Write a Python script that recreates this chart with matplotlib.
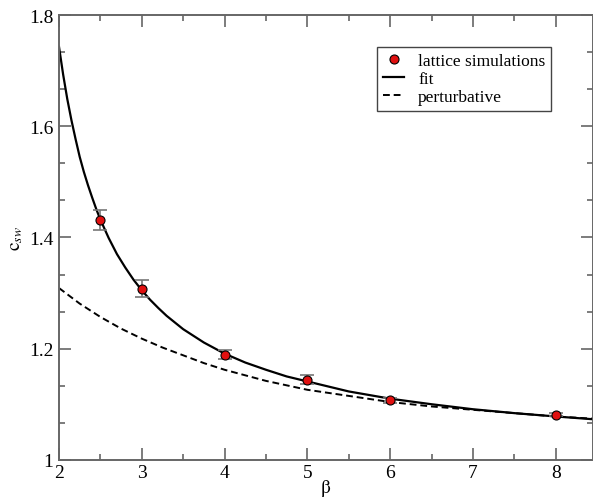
import numpy as np
import matplotlib
matplotlib.use('Agg')
import matplotlib.pyplot as plt
from matplotlib.ticker import AutoMinorLocator, FuncFormatter, MultipleLocator

plt.rcParams['font.family'] = ['Liberation Serif', 'DejaVu Serif']
plt.rcParams['mathtext.fontset'] = 'stix'

# lattice simulation points
beta_sim = [2.5, 3.0, 4.0, 5.0, 6.0, 8.0]
csw_sim = [1.431, 1.308, 1.189, 1.144, 1.107, 1.081]
csw_err = [0.018, 0.015, 0.008, 0.008, 0.004, 0.003]

# fit curve
beta_fit = [2.0, 2.05, 2.1, 2.15, 2.2, 2.25, 2.3, 2.35, 2.4, 2.45, 2.5, 2.6, 2.7,
            2.8, 2.9, 3.0, 3.1, 3.2, 3.3, 3.4, 3.5, 3.625, 3.75, 3.875, 4.0,
            4.25, 4.5, 4.75, 5.0, 5.5, 6.0, 6.5, 7.0, 7.5, 8.0, 8.45]
csw_fit = [1.743, 1.693, 1.649, 1.611, 1.577, 1.545, 1.518, 1.494, 1.472, 1.451,
           1.432, 1.399, 1.370, 1.346, 1.324, 1.305, 1.288, 1.273, 1.259, 1.247,
           1.235, 1.223, 1.211, 1.201, 1.191, 1.175, 1.162, 1.150, 1.141, 1.123,
           1.110, 1.100, 1.091, 1.084, 1.078, 1.073]

# perturbative curve
beta_pt = [2.0, 2.25, 2.5, 2.75, 3.0, 3.25, 3.5, 3.75, 4.0, 4.5, 5.0, 5.5, 6.0,
           6.5, 7.0, 7.5, 8.0, 8.45]
csw_pt = [1.309, 1.281, 1.257, 1.236, 1.218, 1.202, 1.188, 1.174, 1.162, 1.142,
          1.126, 1.115, 1.104, 1.096, 1.090, 1.084, 1.078, 1.074]

fig = plt.figure(figsize=(5.93, 5.02), dpi=100)
ax = fig.add_axes([0.0995, 0.082, 0.9005, 0.886])

ax.plot(beta_fit, csw_fit, color='black', lw=1.6, label='fit')
ax.plot(beta_pt, csw_pt, color='black', lw=1.4, ls=(0, (3.5, 2)), label='perturbative')
ax.errorbar(beta_sim, csw_sim, yerr=csw_err, fmt='none', ecolor='#777777',
            elinewidth=1.2, capsize=5, capthick=1.2, zorder=3)
ax.plot(beta_sim, csw_sim, 'o', ms=6.5, mfc='#e01010', mec='black', mew=0.8,
        label='lattice simulations', zorder=4)

ax.set_xlim(2, 8.45)
ax.set_ylim(1, 1.8)
ax.xaxis.set_major_locator(MultipleLocator(1))
ax.xaxis.set_minor_locator(AutoMinorLocator(2))
ax.yaxis.set_major_locator(MultipleLocator(0.2))
ax.yaxis.set_minor_locator(AutoMinorLocator(3))
ax.yaxis.set_major_formatter(FuncFormatter(lambda v, p: '%g' % round(v, 2)))

for s in ax.spines.values():
    s.set_color('#666666')
    s.set_linewidth(1.4)
ax.tick_params(which='both', direction='in', top=True, right=True,
               color='#666666', width=1.2, labelsize=14)
ax.tick_params(which='major', length=8.5)
ax.tick_params(which='minor', length=4.3)
ax.tick_params(axis='x', pad=3)
ax.tick_params(axis='y', pad=4)

ax.set_xlabel(r'$\mathrm{\beta}$', fontsize=14)
ax.xaxis.set_label_coords(0.5, -0.038)
ax.set_ylabel(r'$\mathrm{c}_{sw}$', fontsize=14, labelpad=3)

handles, labels = ax.get_legend_handles_labels()
order = [2, 0, 1]
leg = ax.legend([handles[i] for i in order], [labels[i] for i in order],
                loc='upper left', bbox_to_anchor=(0.596, 0.928), fontsize=12.5,
                fancybox=False, framealpha=1, edgecolor='#444444',
                borderaxespad=0, handlelength=1.2, handletextpad=0.8,
                borderpad=0.35, labelspacing=0.1)
leg.get_frame().set_linewidth(1.0)

fig.savefig('out.png', dpi=100)
